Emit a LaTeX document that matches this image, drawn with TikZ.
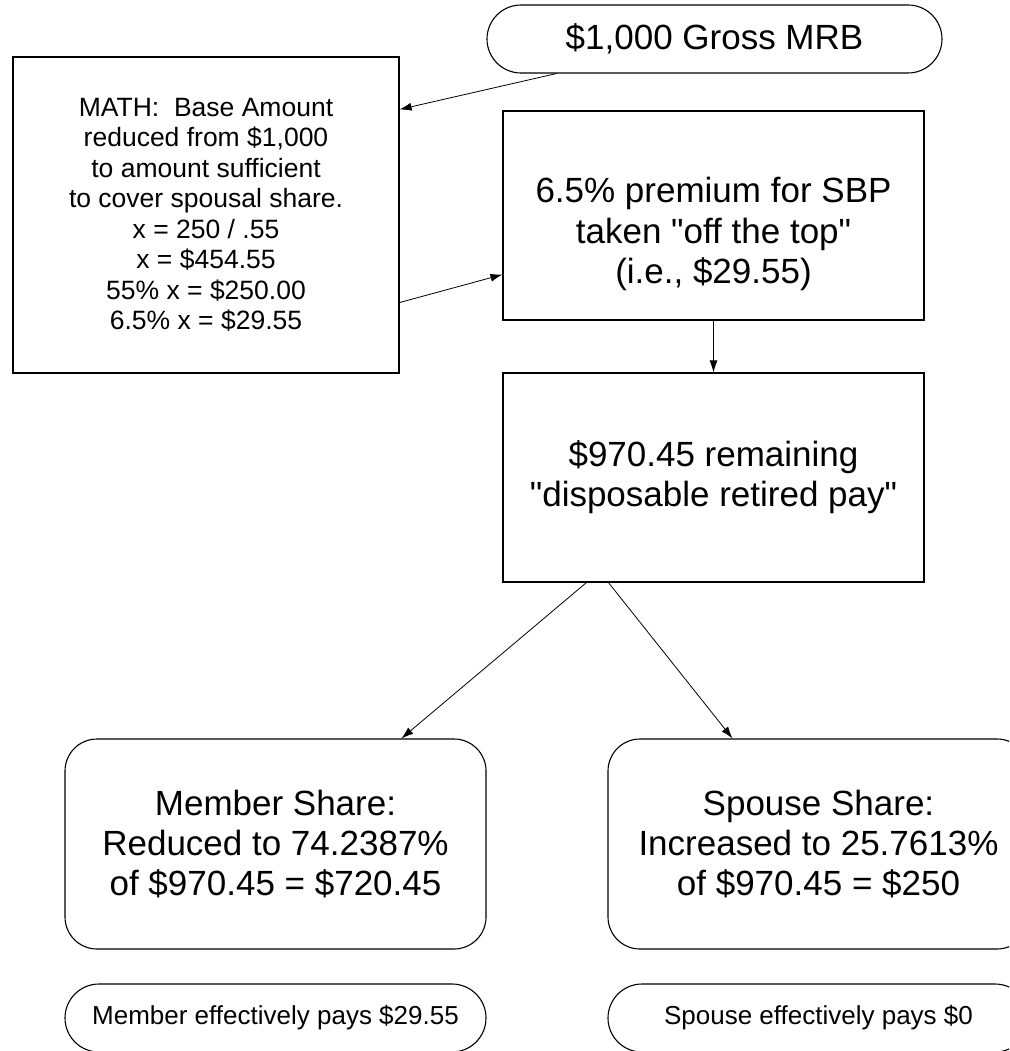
\documentclass[tikz,border=0pt]{standalone}
\usepackage{fontspec}
\setmainfont{Liberation Sans}
\usetikzlibrary{arrows.meta}
\begin{document}
\begin{tikzpicture}[x=1pt,y=-1pt,
  box/.style={draw, line width=1.1pt, inner sep=0pt},
  bigtxt/.style={font=\fontsize{35}{40.25}\selectfont, align=center},
  mathtxt/.style={font=\fontsize{26.5}{30.5}\selectfont, align=center},
  pilltxt/.style={font=\fontsize{26}{30}\selectfont, align=center},
  conn/.style={-{Latex[length=12pt,width=8pt]}, line width=0.8pt}]
\useasboundingbox (0,0) rectangle (1009,1051);
\clip (0,0) rectangle (1009,1051);

\node[box, rounded corners=34pt, minimum width=455pt, minimum height=68pt, bigtxt] (gross) at (714.5,39) {\$1,000 Gross MRB};

\node[box, minimum width=386pt, minimum height=316pt, mathtxt] (math) at (206,215)
  {MATH:\ \ Base Amount\\reduced from \$1,000\\to amount sufficient\\to cover spousal share.\\x = 250 / .55\\x = \$454.55\\55\% x = \$250.00\\6.5\% x = \$29.55};

\node[box, minimum width=421pt, minimum height=209pt] (box2) at (713.5,215.5) {};
\node[bigtxt] (box2text) at (713.5,234) {6.5\% premium for SBP\\taken \textquotedbl off the top\textquotedbl\\(i.e., \$29.55)};

\node[box, minimum width=421pt, minimum height=209pt, bigtxt] (box3) at (713.5,477.5) {\$970.45 remaining\\\textquotedbl disposable retired pay\textquotedbl};

\node[box, rounded corners=32pt, minimum width=421pt, minimum height=210pt, bigtxt] (member) at (275.5,844) {Member Share:\\Reduced to 74.2387\%\\of \$970.45 = \$720.45};
\node[box, rounded corners=32pt, minimum width=421pt, minimum height=210pt, bigtxt] (spouse) at (818.5,844) {Spouse Share:\\Increased to 25.7613\%\\of \$970.45 = \$250};

\node[box, rounded corners=34pt, minimum width=421pt, minimum height=68pt, pilltxt] (mpay) at (275.5,1018) {Member effectively pays \$29.55};
\node[box, rounded corners=34pt, minimum width=421pt, minimum height=68pt, pilltxt] (spay) at (818.5,1018) {Spouse effectively pays \$0};

\draw[conn] ([xshift=70pt]gross.south west) -- ([yshift=-53pt]math.north east);
\draw[conn] ([yshift=71pt]math.south east) -- ([yshift=46pt]box2.south west);
\draw[conn] (box2.south) -- (box3.north);
\draw[conn] ([xshift=84pt]box3.south west) -- ([xshift=337pt]member.north west);
\draw[conn] ([xshift=106pt]box3.south west) -- ([xshift=125pt]spouse.north west);
\end{tikzpicture}
\end{document}
